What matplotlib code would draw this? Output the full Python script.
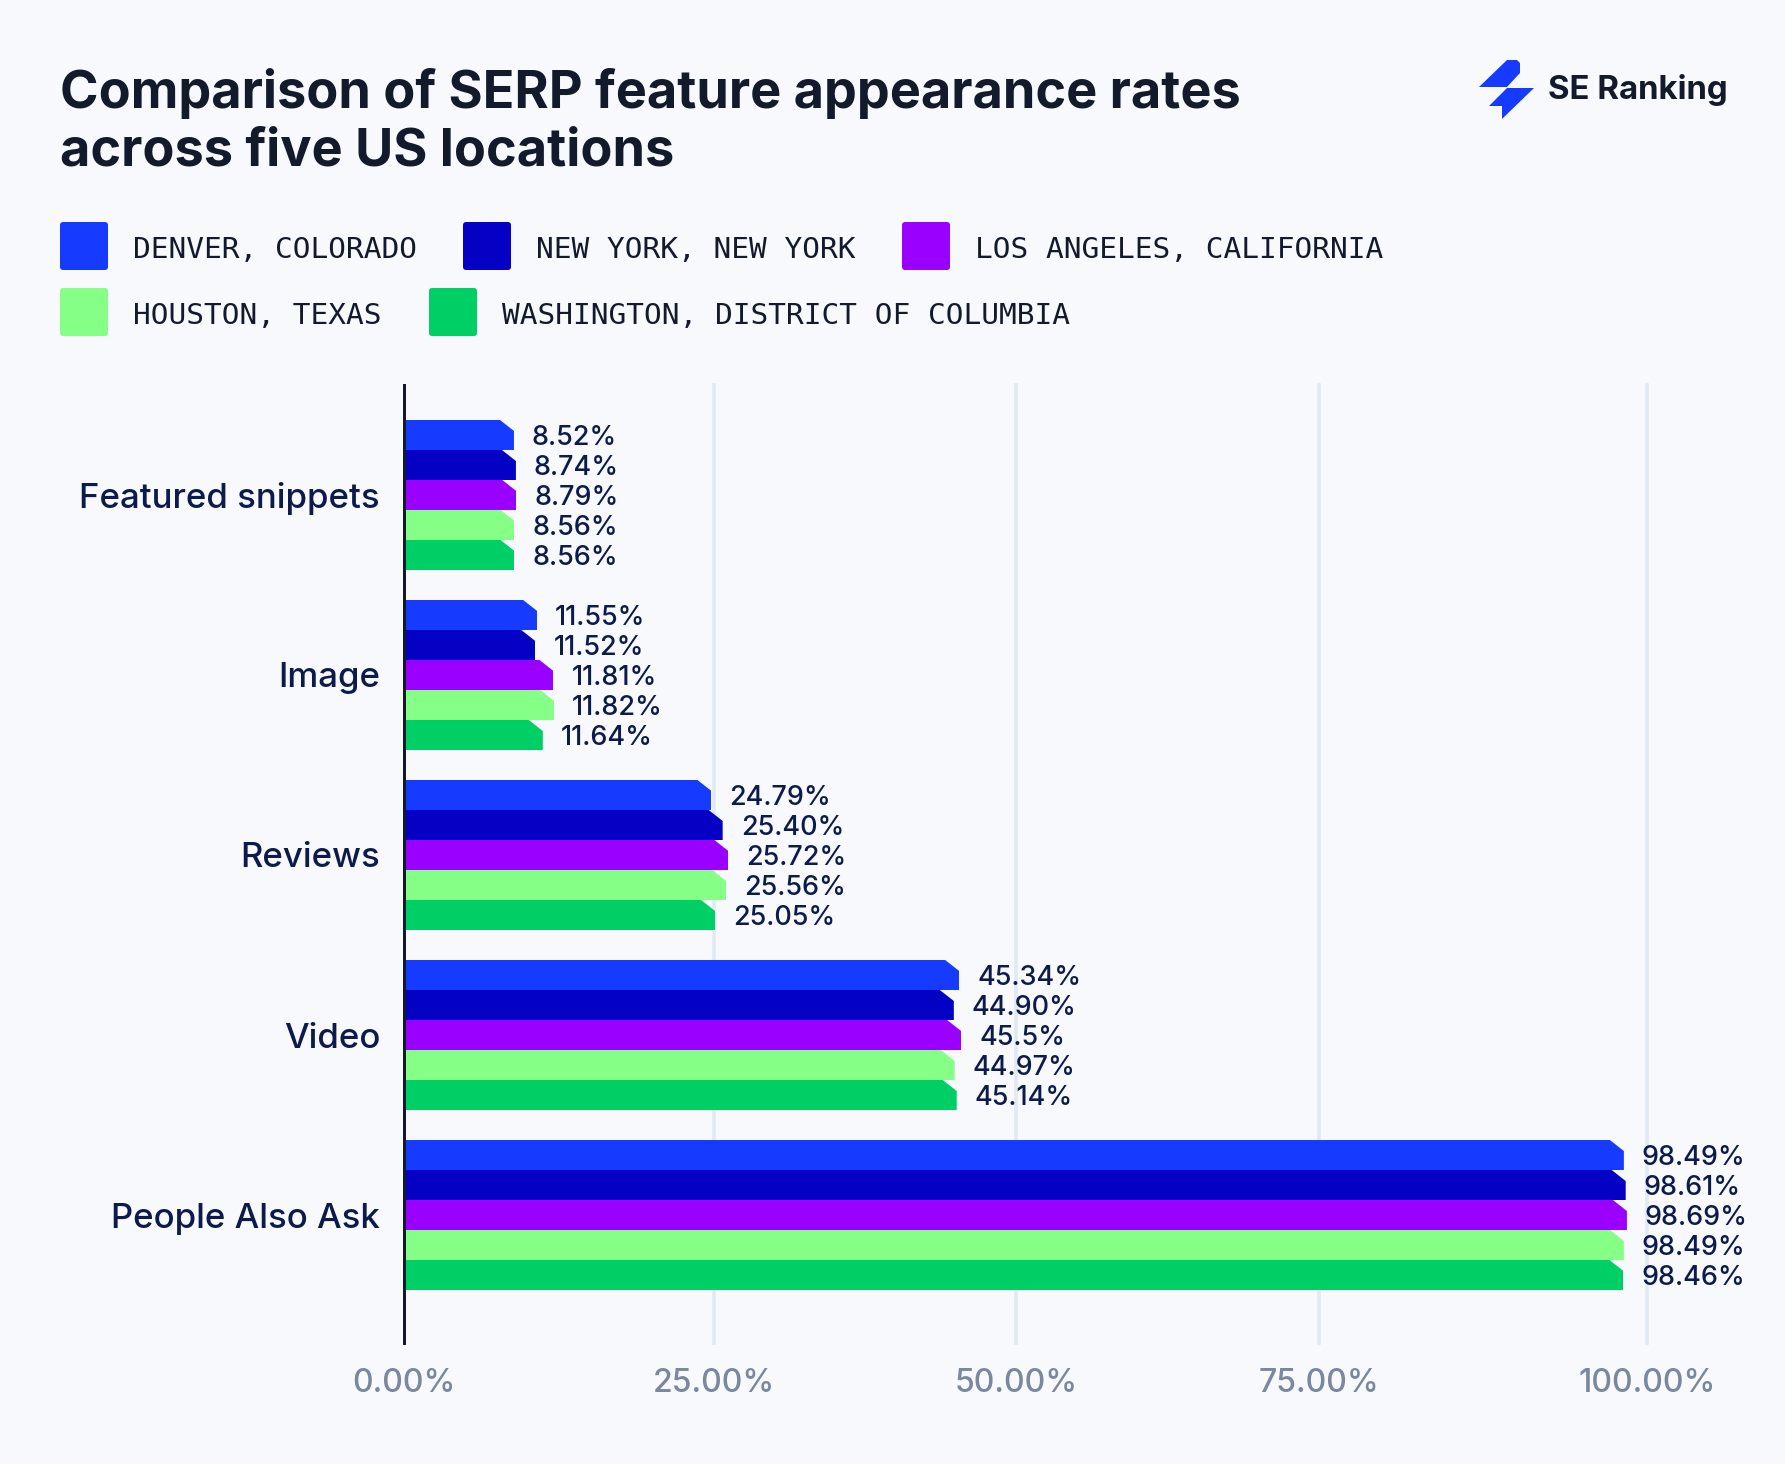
import numpy as np
import matplotlib
matplotlib.use("Agg")
import matplotlib.pyplot as plt
from matplotlib.patches import FancyBboxPatch, Polygon
from matplotlib.transforms import IdentityTransform

categories = ["Featured snippets", "Image", "Reviews", "Video", "People Also Ask"]
denver = [8.52, 11.55, 24.79, 45.34, 98.49]
new_york = [8.74, 11.52, 25.40, 44.90, 98.61]
los_angeles = [8.79, 11.81, 25.72, 45.5, 98.69]
houston = [8.56, 11.82, 25.56, 44.97, 98.49]
washington = [8.56, 11.64, 25.05, 45.14, 98.46]
series_names = ["DENVER, COLORADO", "NEW YORK, NEW YORK", "LOS ANGELES, CALIFORNIA",
                "HOUSTON, TEXAS", "WASHINGTON, DISTRICT OF COLUMBIA"]
x_ticks = [0, 25, 50, 75, 100]
x_tick_labels = ["0.00%", "25.00%", "50.00%", "75.00%", "100.00%"]

colors = ["#163BFF", "#0400C4", "#9900FF", "#85FF85", "#00CF66"]
bg = "#F7F9FD"
ink = "#121A2C"
navy = "#0D1B4C"
W, H = 1785, 1464
DPI = 100


def pt(px):
    return px * 72 / DPI


plt.rcParams["font.family"] = ["Inter", "DejaVu Sans"]

fig = plt.figure(figsize=(W / DPI, H / DPI), dpi=DPI, facecolor=bg)

# header: title, legend and logo, placed in pixels on a full size overlay
top = fig.add_axes([0, 0, 1, 1])
top.set_xlim(0, W)
top.set_ylim(H, 0)
top.axis("off")

top.text(60, 108, "Comparison of SERP feature appearance rates", fontsize=pt(52.2),
         fontweight="bold", color=ink, va="baseline")
top.text(60, 166, "across five US locations", fontsize=pt(52.2),
         fontweight="bold", color=ink, va="baseline")

swatch_x = [60, 463, 902, 60, 429]
swatch_y = [222, 222, 222, 288, 288]
for name, col, sx, sy in zip(series_names, colors, swatch_x, swatch_y):
    top.add_patch(FancyBboxPatch((sx + 3, sy + 3), 42, 42, boxstyle="round,pad=3,rounding_size=3",
                                 fc=col, ec="none"))
    top.text(sx + 73, sy + 28, name, fontsize=pt(29.45), family="DejaVu Sans Mono",
             color=ink, va="center")

# SE Ranking logo
top.add_patch(Polygon([(1479, 87), (1507, 60), (1517, 60), (1520, 63), (1520, 73), (1507, 87)],
                      fc="#163BFF", ec="none"))
top.add_patch(Polygon([(1489, 106), (1507, 88), (1534, 88), (1502, 119), (1502, 106)],
                      fc="#163BFF", ec="none"))
top.text(1548, 99, "SE Ranking", fontsize=pt(33), fontweight="bold", color=ink, va="baseline")

# chart: the x axis of the reference is slightly uneven, so the scale follows it
scale_vals = [0, 8.6, 11.5, 11.85, 25, 25.6, 45, 50, 75, 98.5, 100]
scale_px = [404, 515, 534, 556, 714, 727, 955, 1016, 1319, 1624, 1647]


def forward(v):
    return np.interp(v, scale_vals, scale_px)


def inverse(p):
    return np.interp(p, scale_px, scale_vals)


ax = fig.add_axes([404 / W, 1 - 1343 / H, (1647 - 404) / W, (1343 - 385) / H])
ax.patch.set_alpha(0)
ax.set_xscale("function", functions=(forward, inverse))
ax.set_xlim(0, 100)
ax.set_ylim(4.711, -0.611)

bar_h = 1 / 6
all_series = [denver, new_york, los_angeles, houston, washington]
bars = []
for i, (vals, col) in enumerate(zip(all_series, colors)):
    y = np.arange(len(categories)) + (i - 2) * bar_h
    rects = ax.barh(y, vals, height=bar_h, color=col, zorder=3, linewidth=0)
    for rect, v, yy in zip(rects, vals, y):
        bars.append(rect)
        label = "45.5%" if v == 45.5 else f"{v:.2f}%"
        ax.annotate(label, (v, yy), xytext=(pt(18), pt(-3)), textcoords="offset points",
                    fontsize=pt(27), fontweight="medium", color=navy, va="center", ha="left",
                    zorder=4, annotation_clip=False)

ax.set_xticks(x_ticks, x_tick_labels)
ax.set_yticks(range(len(categories)), categories)
ax.tick_params(axis="x", length=0, pad=pt(25), labelsize=pt(32), labelcolor="#7B879E")
ax.tick_params(axis="y", length=0, pad=pt(24), labelsize=pt(34.8), labelcolor=navy)
for lab in ax.get_yticklabels() + ax.get_xticklabels():
    lab.set_fontweight("medium")
ax.grid(axis="x", color="#E1E9F2", linewidth=pt(3.5), zorder=0)
ax.set_axisbelow(True)
for line in ax.get_xgridlines():
    line.set_clip_on(False)
ax.get_xgridlines()[0].set_visible(False)
for side in ["top", "right", "bottom"]:
    ax.spines[side].set_visible(False)
ax.spines["left"].set_color(ink)
ax.spines["left"].set_linewidth(pt(3))
ax.spines["left"].set_zorder(5)

# cut the top right corner of each bar
for rect in bars:
    x0, y0 = ax.transData.transform((0, rect.get_y()))
    x1, y1 = ax.transData.transform((rect.get_width(), rect.get_y() + rect.get_height()))
    # y axis is inverted, y0 is the top edge in display coordinates
    clip = Polygon([(x0 - 1, y0), (x1 - 14, y0), (x1, y0 - 11), (x1, y1), (x0 - 1, y1)],
                   transform=IdentityTransform())
    rect.set_clip_path(clip)

fig.savefig("out.png", dpi=DPI, facecolor=bg)
